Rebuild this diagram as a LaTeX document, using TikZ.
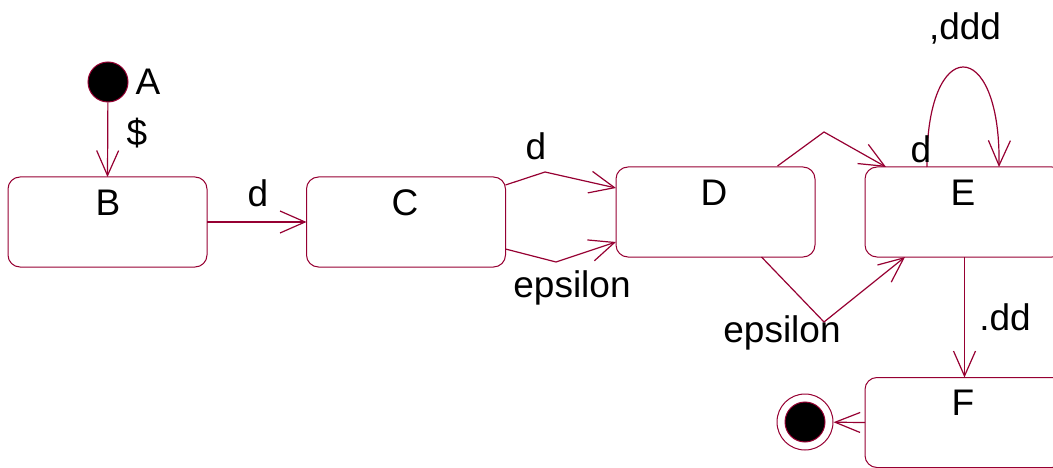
\documentclass[tikz,border=0pt]{standalone}
\usepackage{fontspec}
\setmainfont{Liberation Sans}
\usetikzlibrary{arrows.meta,calc}
\definecolor{umlline}{RGB}{150,0,50}
\tikzset{
  statebox/.style={draw=umlline, line width=1pt, rounded corners=12pt,
    minimum width=199pt, minimum height=90pt, inner sep=0pt, outer sep=0pt},
  txt/.style={font=\fontsize{37}{40}\selectfont, anchor=base, inner sep=0pt},
  trans/.style={draw=umlline, line width=1.2pt,
    -{Straight Barb[length=25pt,width=22pt]}},
  initstate/.style={circle, fill=black, draw=umlline, line width=1pt,
    minimum size=40pt, inner sep=0pt},
  finring/.style={circle, draw=umlline, line width=1pt,
    minimum size=56pt, inner sep=0pt}
}
\begin{document}
\begin{tikzpicture}[x=1pt,y=-1pt]
  \useasboundingbox (0,0) rectangle (1053,468);
  \clip (0,0) rectangle (1053,468);

  % states
  \node[initstate] (A) at (108,82) {};
  \node[statebox] (B) at (107.5,222) {};
  \node[statebox] (C) at (406,222) {};
  \node[statebox] (D) at (715.5,212) {};
  \node[statebox] (E) at (964.5,212) {};
  \node[statebox] (F) at (964.5,422.5) {};
  \node[finring] (fin) at (805,422) {};
  \node[initstate, minimum size=40pt] (finc) at (805,422) {};

  % state names
  \node[txt] (tA) at (148,95) {A};
  \node[txt] (tB) at (108,215) {B};
  \node[txt] (tC) at (405,215) {C};
  \node[txt] (tD) at (714,205) {D};
  \node[txt] (tE) at (963,205) {E};
  \node[txt] (tF) at (963,415) {F};

  % bend points
  \coordinate (cd1) at (545,172);
  \coordinate (cd2) at (556,262);
  \coordinate (de1) at (824,132);
  \coordinate (de2) at (824,322);

  % transitions
  \draw[trans] (A) -- (B.north);
  \draw[trans] (B.east) -- (C.west);
  \draw[trans] ($(C.north east)+(0,8)$) -- (cd1) -- ($(D.west)+(0,-24)$);
  \draw[trans] ($(C.south east)+(0,-18)$) -- (cd2) -- ($(D.west)+(0,30)$);
  \draw[trans] ($(D.north)+(62,-1)$) -- (de1) -- ($(E.north west)+(21,0)$);
  \draw[trans] ($(D.south)+(46,0)$) -- (de2) -- ($(E.south west)+(40,0)$);
  \draw[trans] ($(E.north)+(-37.5,0)$) .. controls (925,34) and (1001,34) .. ($(E.north)+(34.5,0)$);
  \draw[trans] (E.south -| F.north) -- (F.north);
  \draw[trans, -{Straight Barb[length=25pt,width=20pt]}] (F.west) -- (fin);

  % transition labels
  \node[txt] (l1) at (137,146) {\$};
  \node[txt] (l2) at (258,207) {d};
  \node[txt] (l3) at (536,160) {d};
  \node[txt] (l4) at (572,297) {epsilon};
  \node[txt] (l5) at (782,342) {epsilon};
  \node[txt] (l6) at (965,40) {,ddd};
  \node[txt] (l7) at (921,163) {d};
  \node[txt] (l8) at (1005,330) {.dd};
\end{tikzpicture}
\end{document}
